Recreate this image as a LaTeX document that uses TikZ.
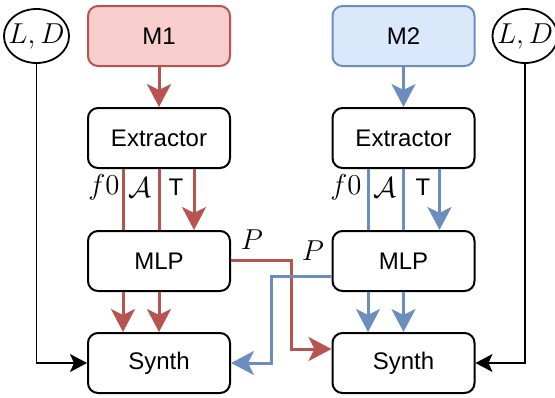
\documentclass[tikz,border=0pt]{standalone}
\usepackage{fontspec}
\setmainfont{Liberation Sans}
\usetikzlibrary{arrows.meta,calc,shapes.geometric}
\definecolor{redfill}{HTML}{F8CECC}
\definecolor{redline}{HTML}{B85450}
\definecolor{bluefill}{HTML}{DAE8FC}
\definecolor{blueline}{HTML}{6C8EBF}
\begin{document}
\begin{tikzpicture}[x=0.5pt,y=-0.5pt,
  font=\fontsize{12}{14}\selectfont,
  box/.style={draw=black,line width=1pt,rounded corners=5pt,minimum width=71pt,minimum height=30pt,fill=white},
  redbox/.style={box,draw=redline,fill=redfill},
  bluebox/.style={box,draw=blueline,fill=bluefill},
  ldnode/.style={draw=black,line width=0.9pt,ellipse,minimum width=31pt,minimum height=27pt,inner xsep=-2.5pt,inner ysep=0pt,font=\fontsize{14.5}{17}\selectfont},
  redarrow/.style={draw=redline,line width=1.5pt,-{Stealth[length=11.5pt,width=12pt,inset=3pt]}},
  redline/.style={draw=redline,line width=1.5pt},
  bluearrow/.style={draw=blueline,line width=1.5pt,-{Stealth[length=11.5pt,width=12pt,inset=3pt]}},
  blueline/.style={draw=blueline,line width=1.5pt},
  blackarrow/.style={draw=black,line width=0.8pt,-{Stealth[length=8.5pt,width=9pt,inset=2pt]}},
  lbl/.style={inner sep=0pt,font=\fontsize{14.5}{17}\selectfont},
  tlbl/.style={inner sep=0pt}
]
\useasboundingbox[fill=white] (0,0) rectangle (555,397);

% left column
\node[redbox] (M1) at (159,36) {M1};
\node[box] (E1) at (159,138) {Extractor};
\node[box] (P1) at (159,261) {MLP};
\node[box] (S1) at (159,363) {Synth};
% right column
\node[bluebox] (M2) at (403.5,36) {M2};
\node[box] (E2) at (403.5,138) {Extractor};
\node[box] (P2) at (403.5,261) {MLP};
\node[box] (S2) at (403.5,363) {Synth};
% L,D
\node[ldnode] (LD1) at (36.5,36) {$L,D$};
\node[ldnode] (LD2) at (525,36) {$L,D$};

% red connectors
\draw[redarrow] (M1.south) -- (E1.north);
\draw[redline] ($(E1.south)+(-36,0)$) -- ($(P1.north)+(-36,0)$);
\draw[redline] (E1.south) -- (P1.north);
\draw[redarrow] ($(E1.south)+(35,0)$) -- ($(P1.north)+(35,0)$);
\draw[redarrow] ($(P1.south)+(-36,0)$) -- ($(S1.north)+(-36,0)$);
\draw[redarrow] (P1.south) -- (S1.north);
% blue connectors
\draw[bluearrow] (M2.south) -- (E2.north);
\draw[blueline] ($(E2.south)+(-35.5,0)$) -- ($(P2.north)+(-35.5,0)$);
\draw[blueline] (E2.south) -- (P2.north);
\draw[bluearrow] ($(E2.south)+(36,0)$) -- ($(P2.north)+(36,0)$);
\draw[bluearrow] ($(P2.south)+(-35.5,0)$) -- ($(S2.north)+(-35.5,0)$);
\draw[bluearrow] (P2.south) -- (S2.north);

% cross connections
\coordinate (RC) at (291,349);
\coordinate (BC) at (271,363);
\draw[redarrow] ($(P1.east)+(0,-1)$) -| (RC) -- ($(S2.west)+(0,-14)$);
\draw[bluearrow] ($(P2.west)+(0,15)$) -| (BC) -- (S1.east);

% black connectors
\draw[blackarrow] (LD1.south) |- (S1.west);
\draw[blackarrow] (LD2.south) |- (S2.east);

% labels
\node[lbl] (lf1) at (104,187) {$f0$};
\node[lbl] (la1) at (140,188) {$\mathcal{A}$};
\node[tlbl] (lt1) at (176,187) {T};
\node[lbl] (lf2) at (346,187) {$f0$};
\node[lbl] (la2) at (385,188) {$\mathcal{A}$};
\node[tlbl] (lt2) at (423,187) {T};
\node[lbl] (lp1) at (252,240) {$P$};
\node[lbl] (lp2) at (313,251) {$P$};
\end{tikzpicture}
\end{document}
